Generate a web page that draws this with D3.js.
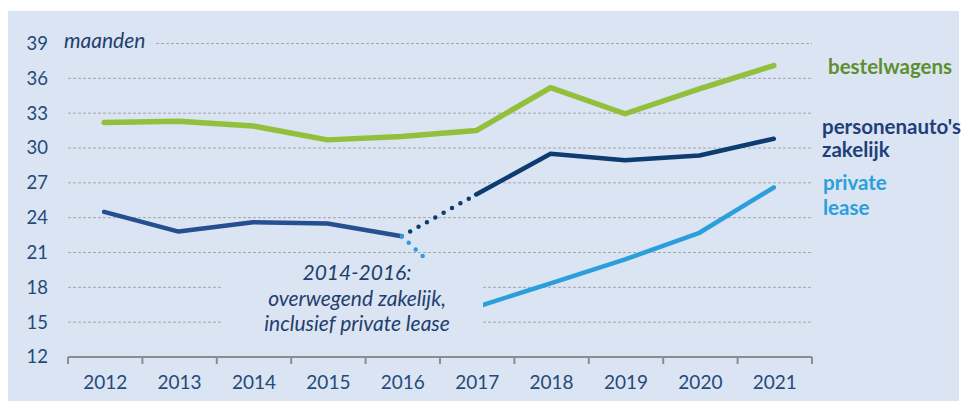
<!DOCTYPE html>
<html>
<head>
<meta charset="utf-8">
<script src="https://cdn.jsdelivr.net/npm/d3@7"></script>
<style>
  body { margin: 0; background: #fff; }
  text { font-family: Lato, "Open Sans", sans-serif; }
</style>
</head>
<body>
<div id="chart"></div>
<script>
// data
var years = [2012, 2013, 2014, 2015, 2016, 2017, 2018, 2019, 2020, 2021];
var bestelwagens = [32.2, 32.3, 31.9, 30.7, 31.0, 31.5, 35.2, 32.95, 35.1, 37.1];
var yearsOud = [2012, 2013, 2014, 2015, 2016];
var zakelijkOud = [24.5, 22.8, 23.6, 23.5, 22.4];   // overwegend zakelijk, incl. private lease
var yearsNieuw = [2017, 2018, 2019, 2020, 2021];
var zakelijk = [26.0, 29.5, 28.95, 29.35, 30.8];
var privateLease = [16.3, 18.35, 20.4, 22.7, 26.6];
var yTicks = [12, 15, 18, 21, 24, 27, 30, 33, 36, 39];

var W = 963, H = 402;

var svg = d3.select("#chart")
    .append("svg")
    .attr("width", W)
    .attr("height", H);

// panel background
svg.append("rect")
    .attr("x", 8).attr("y", 11)
    .attr("width", 951).attr("height", 390)
    .attr("fill", "#dbe4f2");

var x = d3.scaleBand().domain(years).range([68, 812]);
var y = d3.scaleLinear().domain([12, 39]).range([357, 43.5]);
function cx(d) { return x(d) + x.bandwidth() / 2 - 1; }

// gridlines (dashed)
svg.append("g")
    .selectAll("line")
    .data(yTicks.filter(function (d) { return d > 12; }))
    .enter()
    .append("line")
    .attr("x1", function (d) { return d === 39 ? 156 : x.range()[0]; })
    .attr("x2", x.range()[1])
    .attr("y1", function (d) { return y(d); })
    .attr("y2", function (d) { return y(d); })
    .attr("stroke", "#a3a6ab")
    .attr("stroke-width", 1)
    .attr("stroke-dasharray", "3 2");

// y labels
svg.append("g")
    .attr("transform", "translate(48,0)")
    .call(d3.axisLeft(y).tickValues(yTicks).tickSize(0).tickPadding(0))
    .call(function (g) { g.select(".domain").remove(); })
    .selectAll("text")
    .attr("font-family", "Lato, sans-serif")
    .attr("font-size", 18.5)
    .attr("fill", "#244a7a");

svg.append("text")
    .attr("x", 64).attr("y", 48)
    .attr("font-size", 21)
    .attr("font-style", "italic")
    .attr("fill", "#1f3f6e")
    .text("maanden");

// x axis
var xAxis = svg.append("g")
    .attr("transform", "translate(0,357)")
    .call(d3.axisBottom(x).tickSize(0).tickPadding(19));
xAxis.select(".domain").remove();
xAxis.selectAll("text")
    .attr("font-family", "Lato, sans-serif")
    .attr("font-size", 19)
    .attr("fill", "#244a7a");
xAxis.append("line")
    .attr("x1", x.range()[0]).attr("x2", x.range()[1])
    .attr("stroke", "#8c8c8c").attr("stroke-width", 2);
xAxis.selectAll(".sep")
    .data(years.map(function (d) { return x(d); }).concat([x.range()[1]]))
    .enter()
    .append("line")
    .attr("x1", function (d) { return d; })
    .attr("x2", function (d) { return d; })
    .attr("y1", 0).attr("y2", 7)
    .attr("stroke", "#8c8c8c").attr("stroke-width", 2);

var line = d3.line()
    .x(function (d) { return cx(d[0]); })
    .y(function (d) { return y(d[1]); });

function pairs(xs, vs) { return xs.map(function (d, i) { return [d, vs[i]]; }); }

// dotted connections 2016 -> 2017
var last = [yearsOud[4], zakelijkOud[4]];
svg.append("path")
    .attr("d", line([last, [yearsNieuw[0], zakelijk[0]]]))
    .attr("fill", "none").attr("stroke", "#0c3c70")
    .attr("stroke-width", 4.5).attr("stroke-linecap", "round")
    .attr("stroke-dasharray", "0 9.6");

// solid lines
svg.append("path")
    .attr("d", line(pairs(years, bestelwagens)))
    .attr("fill", "none").attr("stroke", "#93c03c")
    .attr("stroke-width", 5.5).attr("stroke-linecap", "round")
    .attr("stroke-linejoin", "round");

svg.append("path")
    .attr("d", line(pairs(yearsOud, zakelijkOud)))
    .attr("fill", "none").attr("stroke", "#264f8f")
    .attr("stroke-width", 4.5).attr("stroke-linecap", "round")
    .attr("stroke-linejoin", "round");

svg.append("path")
    .attr("d", line(pairs(yearsNieuw, zakelijk)))
    .attr("fill", "none").attr("stroke", "#0c3c70")
    .attr("stroke-width", 4.5).attr("stroke-linecap", "round")
    .attr("stroke-linejoin", "round");

svg.append("path")
    .attr("d", line([last, [yearsNieuw[0], privateLease[0]]]))
    .attr("fill", "none").attr("stroke", "#2a9fdc")
    .attr("stroke-width", 4.5).attr("stroke-linecap", "round")
    .attr("stroke-dasharray", "0 9.6");

svg.append("path")
    .attr("d", line(pairs(yearsNieuw, privateLease)))
    .attr("fill", "none").attr("stroke", "#2a9fdc")
    .attr("stroke-width", 4.5).attr("stroke-linecap", "round")
    .attr("stroke-linejoin", "round");

// annotation box covers part of the grid and lines
svg.append("rect")
    .attr("x", 223).attr("y", 259)
    .attr("width", 260).attr("height", 88)
    .attr("fill", "#dbe4f2");

var note = ["2014-2016:", "overwegend zakelijk,", "inclusief private lease"];
svg.append("g")
    .selectAll("text")
    .data(note)
    .enter()
    .append("text")
    .attr("x", 357)
    .attr("y", function (d, i) { return 280 + i * 25.5; })
    .attr("text-anchor", "middle")
    .attr("font-size", 21)
    .attr("font-style", "italic")
    .attr("fill", "#1f3f6e")
    .text(function (d) { return d; });

// series labels
var labels = [
    {t: "bestelwagens", x: 828, y: 74, c: "#5d8f2f"},
    {t: "personenauto's", x: 822, y: 134, c: "#1f3f7a"},
    {t: "zakelijk", x: 822, y: 157, c: "#1f3f7a"},
    {t: "private", x: 823, y: 190, c: "#2a9fdc"},
    {t: "lease", x: 823, y: 215, c: "#2a9fdc"}
];
svg.append("g")
    .selectAll("text")
    .data(labels)
    .enter()
    .append("text")
    .attr("x", function (d) { return d.x; })
    .attr("y", function (d) { return d.y; })
    .attr("font-size", 20.5)
    .attr("font-weight", "bold")
    .attr("fill", function (d) { return d.c; })
    .text(function (d) { return d.t; });
</script>
</body>
</html>
